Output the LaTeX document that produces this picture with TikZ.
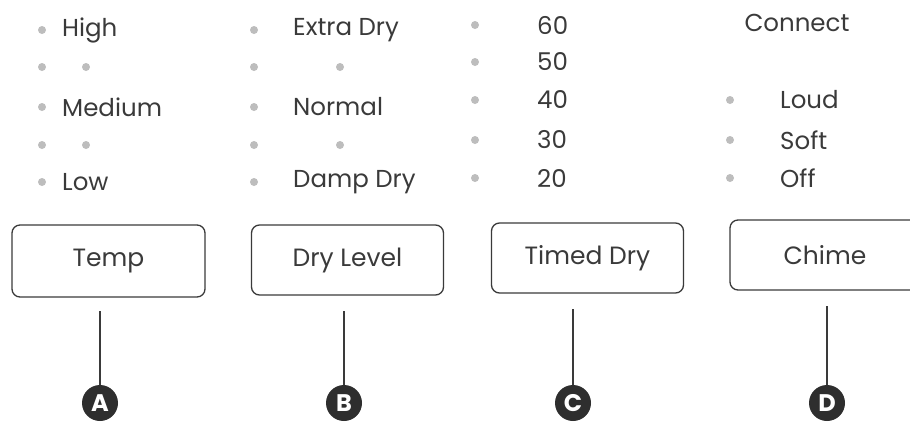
\documentclass[tikz,border=0pt]{standalone}
\usepackage{fontspec}
\setmainfont{Poppins}
\usetikzlibrary{positioning}
\definecolor{dryInk}{HTML}{3A3A3A}
\definecolor{dryDot}{HTML}{BDBDBD}
\definecolor{dryBadge}{HTML}{2E2E2E}

\begin{document}
\begin{tikzpicture}[
    x=1pt, y=-1pt,
    opt/.style={anchor=west, inner sep=0pt, text=dryInk,
                font=\fontsize{24.5}{28}\selectfont},
    dot/.style={circle, fill=dryDot, minimum size=8pt, inner sep=0pt},
    ctrlbox/.style={rectangle, rounded corners=8pt, draw=dryInk, line width=1.3pt,
                 minimum width=192pt, minimum height=71pt, text=dryInk,
                 font=\fontsize{25}{28}\selectfont},
    badge/.style={circle, fill=dryBadge, text=white, minimum size=36pt,
                  inner sep=0pt, font=\fontsize{24}{26}\selectfont\bfseries},
    lead/.style={draw=dryInk, line width=2pt},
  ]
    \useasboundingbox (0,0) rectangle (910,424);
    \clip (0,0) rectangle (910,424);

    % Temp options
    \node[dot] (t1) at (42,30) {};
    \node[dot] (t2) at (42,67) {};
    \node[dot] (t3) at (42,107) {};
    \node[dot] (t4) at (42,145) {};
    \node[dot] (t5) at (42,182) {};
    \node[dot] (t2m) at (86,67) {};
    \node[dot] (t4m) at (86,145) {};
    \node[opt] (tHigh) at (62,30) {High};
    \node[opt] (tMed) at (62,107) {Medium};
    \node[opt] (tLow) at (62,182) {Low};

    % Dry Level options
    \node[dot] (l1) at (254,30) {};
    \node[dot] (l2) at (254,67) {};
    \node[dot] (l3) at (254,107) {};
    \node[dot] (l4) at (254,145) {};
    \node[dot] (l5) at (254,182) {};
    \node[dot] (l2m) at (340,67) {};
    \node[dot] (l4m) at (340,145) {};
    \node[opt] (lExtra) at (293,30) {Extra Dry};
    \node[opt] (lNormal) at (293,107) {Normal};
    \node[opt] (lDamp) at (293,182) {Damp Dry};

    % Timed Dry options
    \node[dot] (m1) at (475,25) {};
    \node[dot] (m2) at (475,62) {};
    \node[dot] (m3) at (475,100) {};
    \node[dot] (m4) at (475,140) {};
    \node[dot] (m5) at (475,178) {};
    \node[opt] (m60) at (537,25) {60};
    \node[opt] (m50) at (537,62) {50};
    \node[opt] (m40) at (537,100) {40};
    \node[opt] (m30) at (537,140) {30};
    \node[opt] (m20) at (537,178) {20};

    % Chime options
    \node[opt, anchor=center] (cConnect) at (797,23) {Connect};
    \node[dot] (c1) at (730,100) {};
    \node[dot] (c2) at (730,140) {};
    \node[dot] (c3) at (730,178) {};
    \node[opt] (cLoud) at (780,100) {Loud};
    \node[opt] (cSoft) at (780,140) {Soft};
    \node[opt] (cOff) at (780,178) {Off};

    % buttons
    \node[ctrlbox, minimum width=193pt, minimum height=72pt] (bTemp) at (108.5,261) {Temp};
    \node[ctrlbox, minimum height=70pt] (bLevel) at (347.5,260) {Dry Level};
    \node[ctrlbox, minimum height=70pt] (bTimed) at (587.5,258) {Timed Dry};
    \node[ctrlbox, minimum width=190pt, minimum height=70pt] (bChime) at (825,255) {Chime};

    % callout badges
    \node[badge] (aA) at (100,403) {A};
    \node[badge] (aB) at (344,403) {B};
    \node[badge] (aC) at (573,403) {C};
    \node[badge] (aD) at (827,403) {D};

    \coordinate (pA) at (100,311);
    \coordinate (pB) at (344,311);
    \coordinate (pC) at (573,309);
    \coordinate (pD) at (827,306);
    \draw[lead] (pA) -- (aA);
    \draw[lead] (pB) -- (aB);
    \draw[lead] (pC) -- (aC);
    \draw[lead] (pD) -- (aD);
  \end{tikzpicture}
\end{document}
